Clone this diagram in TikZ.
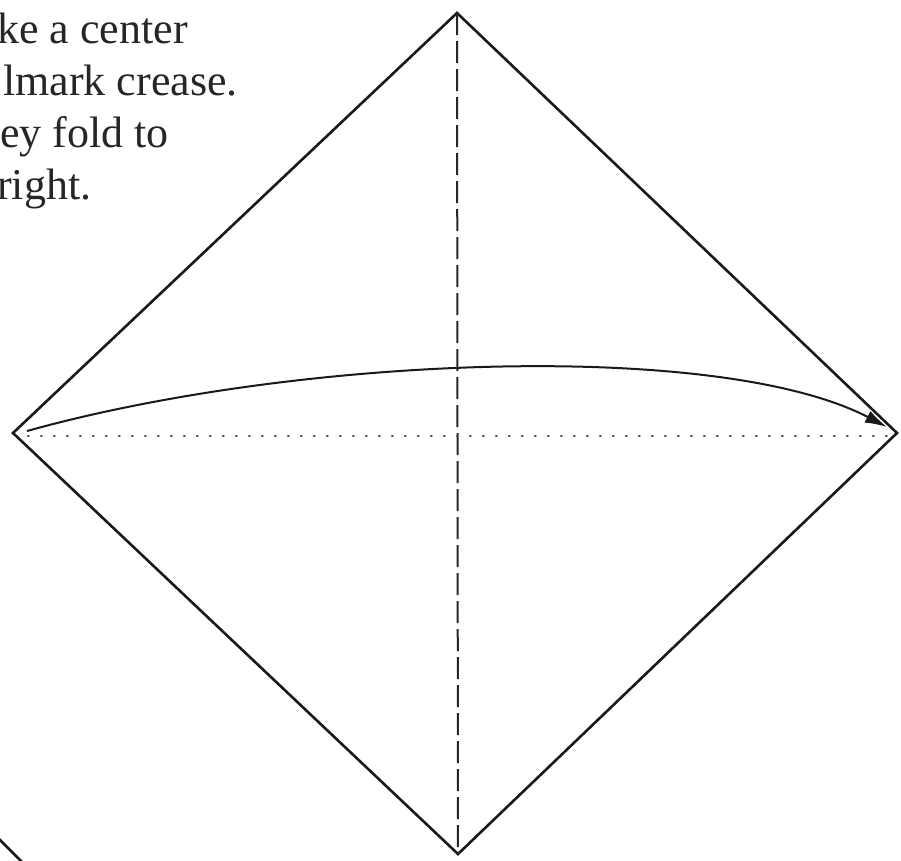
\documentclass[tikz,border=0pt]{standalone}
\usepackage{fontspec}
\setmainfont{Liberation Serif}
\usetikzlibrary{arrows.meta}
\begin{document}
\begin{tikzpicture}[x=1pt,y=-1pt,
  edge/.style={line width=2.6pt, line join=miter, draw=black!90},
  crease/.style={line width=2pt, draw=black!85, dash pattern=on 22pt off 6pt},
  dotline/.style={line width=2.6pt, draw=black!70, line cap=round, dash pattern=on 0.6pt off 12.4pt},
  foldarrow/.style={line width=2pt, draw=black!90, -{Latex[length=22pt,width=13pt]}},
  caption/.style={anchor=base west, inner sep=0pt, font=\fontsize{44}{52}\selectfont, text=black!85}]
\useasboundingbox (0,0) rectangle (901,860);
\clip (0,0) rectangle (901,860);
% diamond vertices
\coordinate (T) at (457,13);
\coordinate (L) at (13,433);
\coordinate (R) at (897,433);
\coordinate (B) at (458,854);
% dotted horizontal crease ends
\coordinate (dl) at (28,436);
\coordinate (dr) at (893,436);
% fold arrow ends
\coordinate (as) at (27,431);
\coordinate (ae) at (887,427);
% other-diagram fragment, bottom left
\coordinate (f1) at (-10,830);
\coordinate (f2) at (30,870);
% square (diamond)
\draw[edge] (T) -- (R) -- (B) -- (L) -- cycle;
% vertical dashed crease
\draw[crease] (T) -- (B);
% horizontal dotted line
\draw[dotline] (dl) -- (dr);
% fold arrow
\draw[foldarrow] (as) .. controls (300,355) and (720,340) .. (ae);
% fragment
\draw[edge] (f1) -- (f2);
% caption text (cut at left edge)
\node[caption] (c1) at (-3,43) {ke a center};
\node[caption] (c2) at (3,95) {lmark crease.};
\node[caption] (c3) at (0,147) {ey fold to};
\node[caption] (c4) at (-3,199) {right.};
\end{tikzpicture}
\end{document}
